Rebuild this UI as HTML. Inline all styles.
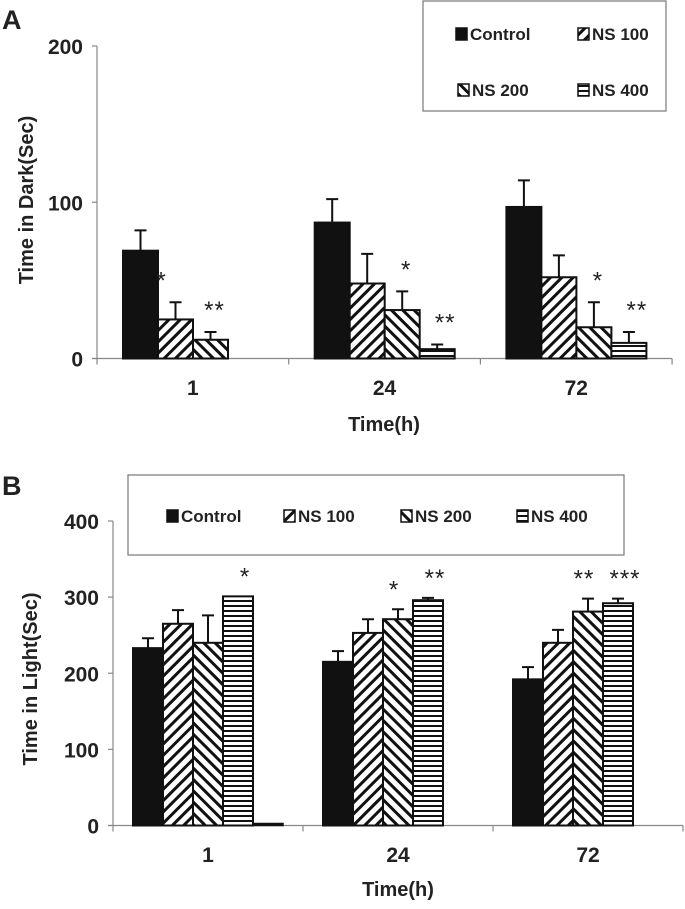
<!DOCTYPE html>
<html><head><meta charset="utf-8"><style>
html,body{margin:0;padding:0;background:#fff;}
svg{display:block;font-family:"Liberation Sans",Arial,sans-serif;}
</style></head><body>
<svg id="fig" width="685" height="909" viewBox="0 0 685 909" xmlns="http://www.w3.org/2000/svg">
<defs>
<pattern id="pFwd" patternUnits="userSpaceOnUse" width="8" height="8" patternTransform="rotate(45)"><rect width="8" height="8" fill="#fff"/><rect x="0" y="0" width="3" height="8" fill="#111"/></pattern>
<pattern id="pBack" patternUnits="userSpaceOnUse" width="8" height="8" patternTransform="rotate(-45)"><rect width="8" height="8" fill="#fff"/><rect x="0" y="0" width="3" height="8" fill="#111"/></pattern>
<pattern id="pHor" patternUnits="userSpaceOnUse" width="8" height="5"><rect width="8" height="5" fill="#fff"/><rect x="0" y="0" width="8" height="2" fill="#111"/></pattern>
</defs>
<g id="panelA"></g>
<g id="panelB"></g>
</svg>
<script>
const categories = ["1","24","72"];
const seriesNames = ["Control","NS 100","NS 200","NS 400"];
// Panel A: time in dark
const darkControl = [69, 87, 97];
const darkNS100 = [25, 48, 52];
const darkNS200 = [12, 31, 20];
const darkNS400 = [0, 6, 10];
const darkErrControl = [13, 15, 17];
const darkErrNS100 = [11, 19, 14];
const darkErrNS200 = [5, 12, 16];
const darkErrNS400 = [0, 3, 7];
const darkStarsNS100 = ["*","",""];
const darkStarsNS200 = ["**","*","*"];
const darkStarsNS400 = ["","**","**"];
const darkTicks = [0,100,200];
// Panel B: time in light
const lightControl = [233, 215, 192];
const lightNS100 = [265, 253, 240];
const lightNS200 = [240, 271, 281];
const lightNS400 = [301, 296, 292];
const lightExtra = [0.8, 0, 0];
const lightErrControl = [13, 14, 16];
const lightErrNS100 = [18, 18, 17];
const lightErrNS200 = [36, 13, 17];
const lightErrNS400 = [0, 3, 6];
const lightStarsNS200 = ["","*","**"];
const lightStarsNS400 = ["*","**","***"];
const lightTicks = [0,100,200,300,400];

const NS="http://www.w3.org/2000/svg";
function mk(parent,tag,attrs,text){const e=document.createElementNS(NS,tag);for(const k in attrs)e.setAttribute(k,attrs[k]);if(text!==undefined)e.textContent=text;parent.appendChild(e);return e;}
const fills=["#111","url(#pFwd)","url(#pBack)","url(#pHor)"];

function drawPanel(g,cfg){
  const yS=v=>cfg.y0-(v/cfg.ymax)*(cfg.y0-cfg.yTop);
  const xS=i=>cfg.x0+i*cfg.cw;
  let ax=mk(g,"line",{x1:cfg.x0,y1:cfg.yTop,x2:cfg.x0,y2:cfg.y0,stroke:"#888","stroke-width":1.2});
  
  
  let bx=mk(g,"line",{x1:cfg.x0-5,y1:cfg.y0,x2:cfg.x0+3*cfg.cw,y2:cfg.y0,stroke:"#888","stroke-width":1.2});
  
  
  cfg.ticks.forEach(t=>{
    let tl=mk(g,"line",{x1:cfg.x0-5,y1:yS(t),x2:cfg.x0,y2:yS(t),stroke:"#888","stroke-width":1.2});
    
    
    let tx=mk(g,"text",{x:cfg.x0-14,y:yS(t)+8,"text-anchor":"end","font-size":21,"font-weight":"bold",fill:"#222"},String(t));
    
    
  });
  for(let i=0;i<=3;i++){
    let tk=mk(g,"line",{x1:xS(i),y1:cfg.y0,x2:xS(i),y2:cfg.y0+6,stroke:"#888","stroke-width":1.2});
    
    
  }
  categories.forEach((c,i)=>{
    let t=mk(g,"text",{x:xS(i)+cfg.cw/2,y:cfg.catY,"text-anchor":"middle","font-size":21,"font-weight":"bold",fill:"#222"},c);
    
    
  });
  cfg.series.forEach((s,si)=>{
    s.vals.forEach((v,i)=>{
      const x=xS(i)+cfg.off+si*cfg.bw;
      if(v<=0) return;
      const h=Math.max(cfg.y0-yS(v),1.5);
      if(s.err && s.err[i]>0){
        const xc=x+cfg.bw/2, ye=yS(v+s.err[i]);
        let el=mk(g,"path",{d:`M${xc},${yS(v)} V${ye} M${xc-6},${ye} H${xc+6}`,stroke:"#111","stroke-width":2,fill:"none"});
        
        
      }
      let r=mk(g,"rect",{x:x,y:cfg.y0-h,width:cfg.bw,height:h,fill:s.fill,stroke:"#111","stroke-width":2});
      
      
      if(s.stars && s.stars[i]){
        const top=v+(s.err?s.err[i]:0);
        let st=mk(g,"text",{x:x+cfg.bw/2+(s.starDx||0),y:yS(top)-cfg.starGap,"text-anchor":"middle","font-size":24,fill:"#222","letter-spacing":"1"},s.stars[i]);
        
        
      }
    });
  });
}

const gA=document.getElementById("panelA");
drawPanel(gA,{x0:97,cw:191.7,y0:358.5,yTop:46,ymax:200,off:26,bw:35,ticks:darkTicks,catY:395,starGap:14,
 series:[
  {key:"control",vals:darkControl,err:darkErrControl,fill:fills[0]},
  {key:"ns100",vals:darkNS100,err:darkErrNS100,fill:fills[1],stars:darkStarsNS100,starDx:-14},
  {key:"ns200",vals:darkNS200,err:darkErrNS200,fill:fills[2],stars:darkStarsNS200,starDx:4},
  {key:"ns400",vals:darkNS400,err:darkErrNS400,fill:fills[3],stars:darkStarsNS400,starDx:8}
 ]});
const gB=document.getElementById("panelB");
drawPanel(gB,{x0:113,cw:190,y0:825.5,yTop:521,ymax:400,off:20,bw:30,ticks:lightTicks,catY:862,starGap:12,
 series:[
  {key:"control",vals:lightControl,err:lightErrControl,fill:fills[0]},
  {key:"ns100",vals:lightNS100,err:lightErrNS100,fill:fills[1]},
  {key:"ns200",vals:lightNS200,err:lightErrNS200,fill:fills[2],stars:lightStarsNS200,starDx:-4},
  {key:"ns400",vals:lightNS400,err:lightErrNS400,fill:fills[3],stars:lightStarsNS400,starDx:7}
 ]});
(function(){const s=[{key:"extra",vals:lightExtra}];})();
// extra flat bar at 1h
lightExtra.forEach((v,i)=>{
  if(v<=0) return;
  const x=113+i*190+20+4*30, y0=825.5, h=Math.max(v/400*304.5,2);
  let r=mk(gB,"rect",{x:x,y:y0-h,width:30,height:h,fill:"#111",stroke:"#111","stroke-width":1.5});
  
  
});

function T(g,x,y,txt,attrs,name){const a=Object.assign({x:x,y:y,"font-weight":"bold",fill:"#222"},attrs);let t=mk(g,"text",a,txt);return t;}
T(gA,2,29,"A",{"font-size":27},"panel-label-a");
T(gB,2,495,"B",{"font-size":27},"panel-label-b");
T(gA,0,0,"Time in Dark(Sec)",{"font-size":20,"text-anchor":"middle",transform:"translate(33,200) rotate(-90)"},"y-axis-title");
T(gB,0,0,"Time in Light(Sec)",{"font-size":20,"text-anchor":"middle",transform:"translate(37,679) rotate(-90)"},"y-axis-title");
T(gA,384,431,"Time(h)",{"font-size":20,"text-anchor":"middle"},"x-axis-title");
T(gB,398,896,"Time(h)",{"font-size":20,"text-anchor":"middle"},"x-axis-title");

function legend(g,box,items,name){
  let lg=mk(g,"g",{});
  
  
  let r=mk(lg,"rect",{x:box[0],y:box[1],width:box[2],height:box[3],fill:"#fff",stroke:"#777","stroke-width":1.2});
  
  
  items.forEach((it,i)=>{
    let e=mk(lg,"g",{});
    
    
    let sw=mk(e,"rect",{x:it[0],y:it[1]-12,width:11,height:12,fill:fills[i],stroke:"#111","stroke-width":1.5});
    
    
    let t=mk(e,"text",{x:it[0]+14,y:it[1],"font-size":17,"font-weight":"bold",fill:"#222"},seriesNames[i]);
    
    
  });
}
legend(gA,[423,1,243,110],[[456,40],[578,40],[458,96],[578,96]],"legend-a");
legend(gB,[128,475,496,80],[[167,522],[284,522],[401,522],[517,522]],"legend-b");
</script>
</body></html>
